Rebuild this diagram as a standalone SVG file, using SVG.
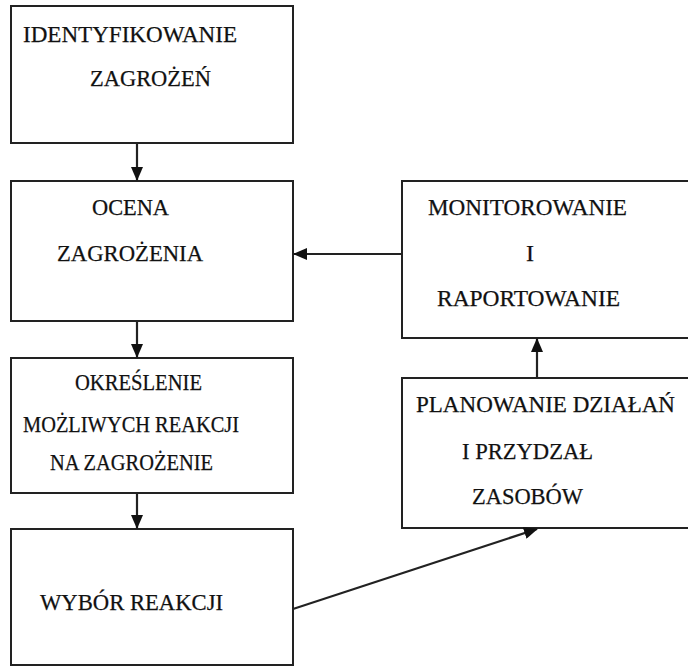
<svg xmlns="http://www.w3.org/2000/svg" width="688" height="666" viewBox="0 0 688 666">
<style>
.box{fill:#fff;stroke:#222;stroke-width:2}
.t{font-family:'Liberation Serif', 'DejaVu Serif', serif;font-size:24px;fill:#111;stroke:#111;stroke-width:0.25}
.c{stroke:#222;stroke-width:2.2;fill:none}
</style>
<defs>
<marker id="ah" markerUnits="userSpaceOnUse" markerWidth="14" markerHeight="12" refX="13" refY="6" orient="auto">
<path d="M0,0 L14,6 L0,12 Z" fill="#111"/>
</marker>
</defs>
<rect width="688" height="666" fill="#fff"/>
<g id="n1"><rect class="box" x="11" y="6" width="282" height="137"/>
<text class="t" x="23" y="42" textLength="214" lengthAdjust="spacingAndGlyphs">IDENTYFIKOWANIE</text>
<text class="t" x="90" y="86" textLength="121" lengthAdjust="spacingAndGlyphs">ZAGROŻEŃ</text></g>
<g id="n2"><rect class="box" x="11" y="181" width="282" height="140"/>
<text class="t" x="92" y="215" textLength="77" lengthAdjust="spacingAndGlyphs">OCENA</text>
<text class="t" x="57" y="261" textLength="146" lengthAdjust="spacingAndGlyphs">ZAGROŻENIA</text></g>
<g id="n3"><rect class="box" x="11" y="358" width="282" height="135"/>
<text class="t" x="75" y="390" textLength="127" lengthAdjust="spacingAndGlyphs">OKREŚLENIE</text>
<text class="t" x="23" y="432" textLength="216" lengthAdjust="spacingAndGlyphs">MOŻLIWYCH REAKCJI</text>
<text class="t" x="50" y="470" textLength="163" lengthAdjust="spacingAndGlyphs">NA ZAGROŻENIE</text></g>
<g id="n4"><rect class="box" x="11" y="529" width="282" height="136"/>
<text class="t" x="40" y="610" textLength="183" lengthAdjust="spacingAndGlyphs">WYBÓR REAKCJI</text></g>
<g id="n5"><path class="box" d="M688,181 H402 V338 H688"/>
<text class="t" x="428" y="215" textLength="199" lengthAdjust="spacingAndGlyphs">MONITOROWANIE</text>
<text class="t" x="526" y="261">I</text>
<text class="t" x="437" y="306" textLength="183" lengthAdjust="spacingAndGlyphs">RAPORTOWANIE</text></g>
<g id="n6"><path class="box" d="M688,378 H402 V528 H688"/>
<text class="t" x="416" y="412" textLength="259" lengthAdjust="spacingAndGlyphs" style="font-size:23px">PLANOWANIE DZIAŁAŃ</text>
<text class="t" x="462" y="459" textLength="131" lengthAdjust="spacingAndGlyphs">I PRZYDZAŁ</text>
<text class="t" x="472" y="504" textLength="111" lengthAdjust="spacingAndGlyphs">ZASOBÓW</text></g>
<g id="connectors">
<line class="c" x1="137" y1="143" x2="137" y2="180" marker-end="url(#ah)"/>
<line class="c" x1="137" y1="321" x2="137" y2="357" marker-end="url(#ah)"/>
<line class="c" x1="137" y1="493" x2="137" y2="528" marker-end="url(#ah)"/>
<line class="c" x1="402" y1="254" x2="294" y2="254" marker-end="url(#ah)"/>
<line class="c" x1="537" y1="378" x2="537" y2="339" marker-end="url(#ah)"/>
<line class="c" x1="293" y1="609" x2="537" y2="529" marker-end="url(#ah)"/>
</g>
</svg>
